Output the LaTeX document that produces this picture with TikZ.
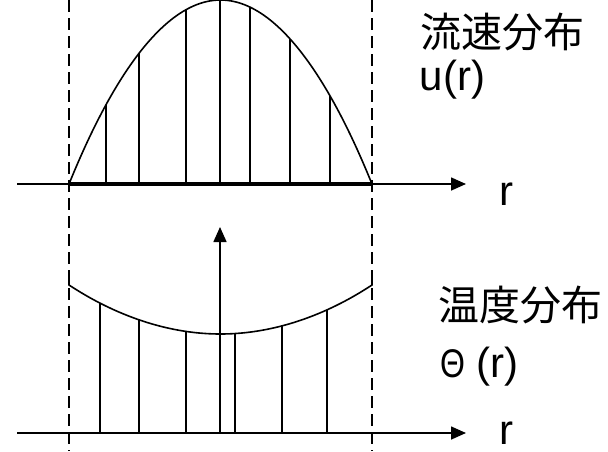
\documentclass[tikz,border=0pt]{standalone}
\usepackage{fontspec}
\setmainfont{Liberation Sans}
\newfontfamily\cjk{Noto Sans CJK JP}
\usetikzlibrary{arrows.meta}

\begin{document}
\begin{tikzpicture}[x=1pt, y=-1pt, line width=1.6pt,
        axis/.style={-{Triangle[length=15pt,width=13pt]}},
        wall/.style={dash pattern=on 12pt off 6pt, line width=1.9pt},
        lbl/.style={inner sep=0pt, anchor=base west, text depth=0pt, font=\fontsize{42}{50}\selectfont},
        jlbl/.style={inner sep=0pt, anchor=west, font=\cjk\fontsize{41}{49}\selectfont}]
        \useasboundingbox (0,0) rectangle (608,451);
        \coordinate (uL) at (17,184);
        \coordinate (uR) at (466,184);
        \coordinate (tL) at (17,433);
        \coordinate (tR) at (466,433);
        \coordinate (w1) at (69,184);
        \coordinate (w2) at (372,184);
        \coordinate (c0) at (220,433);
        \coordinate (c1) at (220,227);
        \draw[wall] (69,0) -- (69,451);
        \draw[wall] (372,0) -- (372,451);
        \draw[axis] (uL) -- (uR);
        \draw[axis] (tL) -- (tR);
        \draw[line width=3.5pt] (w1) -- (w2);
        \draw (w1) parabola bend (220.5,0) (w2);
        \foreach \x in {106,139,186,220,250,290,330}
            \draw (\x,184) -- (\x,{184*((\x-220.5)/151.5)^2});
        \draw (69,279) -- (69,285) parabola bend (220.5,334) (372,285) -- (372,279);
        \foreach \x in {100,139,186,235,282,327}
            \draw (\x,433) -- (\x,{334-49*((\x-220.5)/151.5)^2});
        \draw[axis] (c0) -- (c1);
        \node[jlbl] (flow) at (420,32) {流速分布};
        \node[lbl] (u) at (419,90) {u(r)};
        \node[lbl] (ru) at (499,205) {r};
        \node[jlbl] (temp) at (438,304.5) {温度分布};
        \node[lbl] (theta) at (440,377) {\scalebox{0.8}[1]{\fontsize{40}{48}\selectfont Θ}\hspace{11pt}(r)};
        \node[lbl] (rt) at (499,444) {r};
\end{tikzpicture}
\end{document}
